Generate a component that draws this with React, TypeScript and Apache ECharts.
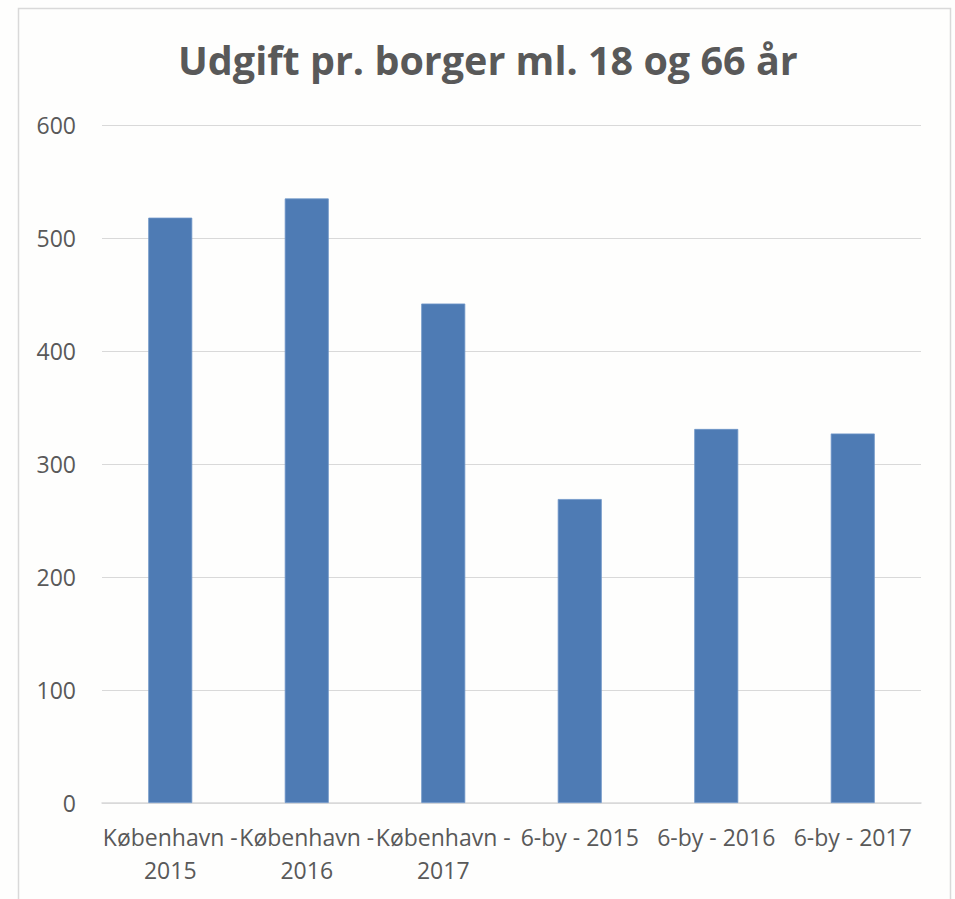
import React, { useEffect, useRef } from "react";
import * as echarts from "echarts";

const TITLE = "Udgift pr. borger ml. 18 og 66 år";
const categories = [
  "København - 2015",
  "København - 2016",
  "København - 2017",
  "6-by - 2015",
  "6-by - 2016",
  "6-by - 2017",
];
const values = [518, 535, 442, 269, 331, 327];
const yTicks = { min: 0, max: 600, interval: 100 };

export default function App() {
  const ref = useRef<HTMLDivElement>(null);
  useEffect(() => {
    document.body.style.margin = "0";
    const chart = echarts.init(ref.current!, null, { renderer: "svg" });
    const font = "'Open Sans', 'Noto Sans', sans-serif";
    chart.setOption({
      animation: false,
      backgroundColor: "#fefefd",
      textStyle: { fontFamily: font },
      graphic: [
        {
          type: "rect",
          shape: { x: 18.5, y: 8.5, width: 932, height: 920 },
          style: { fill: "none", stroke: "#d9d9d9", lineWidth: 1.5 },
          silent: true,
        },
      ],
      title: {
        text: TITLE,
        left: 173,
        top: 35,
        textStyle: {
          fontFamily: font,
          fontSize: 39.5,
          fontWeight: "bold",
          color: "#595959",
        },
      },
      grid: { left: 102, right: 34, top: 125, bottom: 96 },
      xAxis: {
        type: "category",
        data: categories,
        axisLine: { lineStyle: { color: "#d9d9d9", width: 1.5 } },
        axisTick: { show: false },
        axisLabel: {
          interval: 0,
          color: "#595959",
          fontSize: 23,
          fontFamily: font,
          margin: 17,
          lineHeight: 33,
          formatter: (v: string) => {
            if (v.length > 11) {
              const i = v.lastIndexOf(" ");
              return v.slice(0, i) + "\n" + v.slice(i + 1);
            }
            return v;
          },
        },
      },
      yAxis: {
        type: "value",
        min: yTicks.min,
        max: yTicks.max,
        interval: yTicks.interval,
        axisLine: { show: false },
        axisTick: { show: false },
        splitLine: { lineStyle: { color: "#d9d9d9", width: 1.2 } },
        axisLabel: {
          color: "#595959",
          fontSize: 23,
          fontFamily: font,
          margin: 26,
        },
      },
      series: [
        {
          type: "bar",
          data: values,
          barWidth: 44,
          itemStyle: { color: "#4e7bb4", borderColor: "#6f95c8", borderWidth: 0.8 },
        },
      ],
    });
    return () => chart.dispose();
  }, []);
  return <div ref={ref} style={{ width: 955, height: 899 }} />;
}
